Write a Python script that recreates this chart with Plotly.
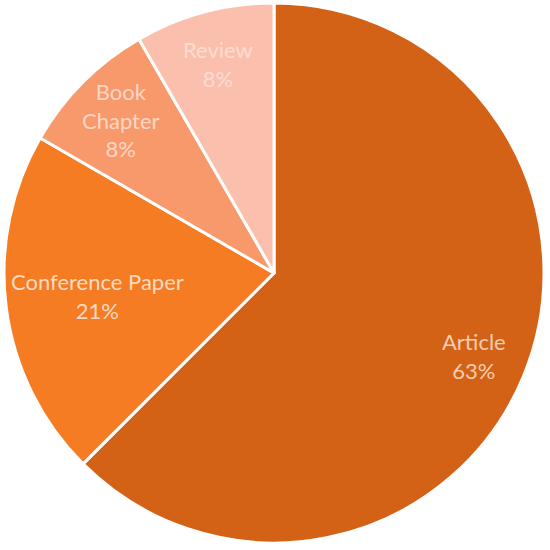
import numpy as np
import plotly.graph_objects as go

doc_types = ["Article", "Conference Paper", "Book Chapter", "Review"]
doc_labels = ["Article", "Conference Paper", "Book<br>Chapter", "Review"]
doc_counts = [15, 5, 2, 2]

slice_colors = ["#D36216", "#F57C22", "#F8996C", "#FBBFAE"]
text_colors = ["#F6CDB2", "#FBDAC2", "#FBD6C3", "#FDDCD2"]

W, H = 550, 550
margin = dict(l=3, r=5, t=3, b=7)

fig = go.Figure()
fig.add_trace(go.Pie(
    labels=doc_types,
    values=doc_counts,
    textinfo="none",
    sort=False,
    direction="clockwise",
    rotation=0,
    marker=dict(colors=slice_colors, line=dict(color="white", width=3)),
    hoverinfo="label+percent",
))

# labels sit on each slice's bisector, like the office-style chart;
# long single-line labels are pulled in towards the centre to fit
total = sum(doc_counts)
pw = W - margin["l"] - margin["r"]
ph = H - margin["t"] - margin["b"]
r = min(pw, ph) / 2
start = 0
for i, v in enumerate(doc_counts):
    mid = (start + v / 2) / total * 2 * np.pi
    start += v
    longest = max(len(s) for s in doc_labels[i].split("<br>"))
    frac = 0.66 if longest > 12 else 0.8
    px = 0.5 + r * frac * np.sin(mid) / pw
    py = 0.5 + r * frac * np.cos(mid) / ph
    pct = round(v / total * 100 + 1e-9)
    fig.add_annotation(
        x=px, y=py, xref="paper", yref="paper",
        text=f"{doc_labels[i]}<br>{pct:.0f}%",
        showarrow=False,
        font=dict(family="Lato, Open Sans, sans-serif", size=22, color=text_colors[i]),
        xanchor="center", yanchor="middle", align="center",
    )

fig.update_layout(
    width=W,
    height=H,
    margin=margin,
    showlegend=False,
    paper_bgcolor="white",
)

fig.write_html("out.html", config={"displayModeBar": False},
               post_script="document.body.style.margin='0';")
